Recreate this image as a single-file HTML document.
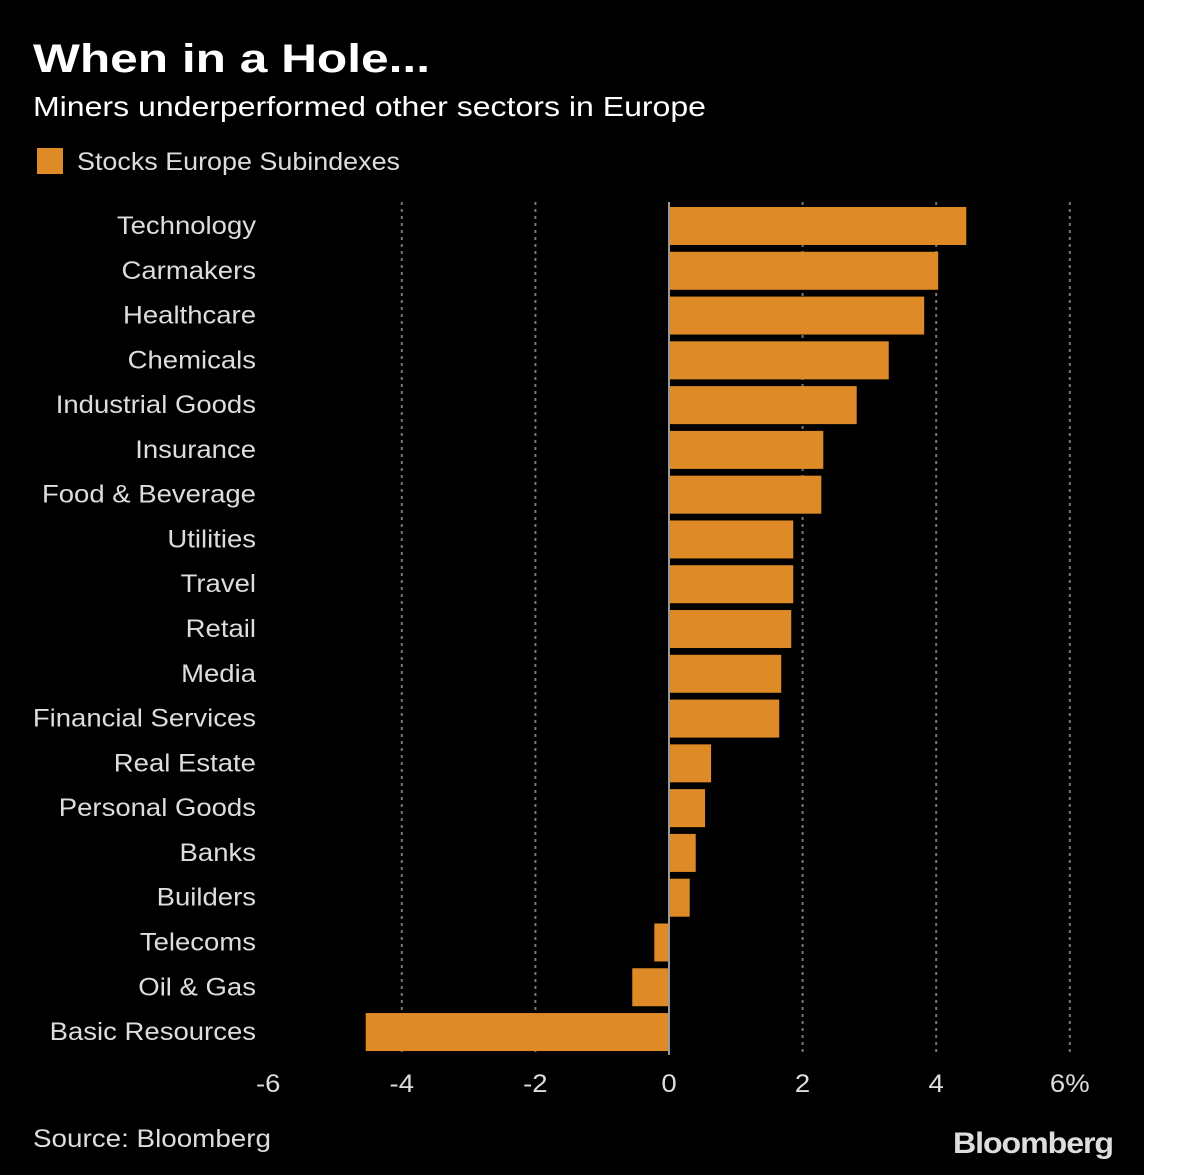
<!DOCTYPE html>
<html><head><meta charset="utf-8"><style>
body{margin:0;width:1200px;height:1175px;background:#fff;overflow:hidden}
#bg{position:absolute;left:0;top:0;width:1144px;height:1175px;background:#000}
svg{position:absolute;left:0;top:0}
text{font-family:"Liberation Sans",sans-serif}
</style></head><body>
<div id="bg"></div>
<svg width="1200" height="1175" id="chart">
<text x="33" y="72" fill="#fff" font-size="40" font-weight="bold" textLength="397" lengthAdjust="spacingAndGlyphs">When in a Hole...</text>
<text x="33" y="116" fill="#fff" font-size="28" textLength="673" lengthAdjust="spacingAndGlyphs">Miners underperformed other sectors in Europe</text>
<rect x="37" y="148" width="26" height="26" fill="#dd8a27"/>
<text x="77" y="170" fill="#ddd" font-size="25" textLength="323" lengthAdjust="spacingAndGlyphs">Stocks Europe Subindexes</text>
<text x="33" y="1147" fill="#ddd" font-size="25" textLength="238" lengthAdjust="spacingAndGlyphs">Source: Bloomberg</text>
<text x="1113" y="1153" fill="#ddd" font-size="30" font-weight="bold" text-anchor="end" letter-spacing="-1" textLength="160" lengthAdjust="spacingAndGlyphs">Bloomberg</text>
<g id="grid"></g><g id="bars"></g><g id="labels"></g><g id="ticks"></g>
</svg>
<script>
const categories=["Technology","Carmakers","Healthcare","Chemicals","Industrial Goods","Insurance","Food & Beverage","Utilities","Travel","Retail","Media","Financial Services","Real Estate","Personal Goods","Banks","Builders","Telecoms","Oil & Gas","Basic Resources"];
const values=[4.45,4.03,3.82,3.29,2.81,2.31,2.28,1.86,1.86,1.83,1.68,1.65,0.63,0.54,0.40,0.31,-0.22,-0.55,-4.54];
const tickValues=[-6,-4,-2,0,2,4,6];
const tickLabels=["-6","-4","-2","0","2","4","6%"];
const NS="http://www.w3.org/2000/svg";
const x=v=>669+v*66.8;
const y=i=>226+i*44.78;
function mk(tag,attrs,parent){const e=document.createElementNS(NS,tag);for(const k in attrs)e.setAttribute(k,attrs[k]);document.getElementById(parent).appendChild(e);return e;}
function widen(t,f){const w=t.getComputedTextLength();t.setAttribute("textLength",w*f);t.setAttribute("lengthAdjust","spacingAndGlyphs");}
tickValues.forEach((t,i)=>{
  if(t!==0&&t!==-6){const g=mk("line",{x1:x(t),x2:x(t),y1:202,y2:1055,stroke:"#777","stroke-width":2,"stroke-dasharray":"3,4"},"grid");
  
  }
  const tl=mk("text",{x:x(t),y:1092,fill:"#ddd","font-size":25,"text-anchor":"middle"},"ticks");
  tl.textContent=tickLabels[i];
  
  
  widen(tl,1.1);
});
categories.forEach((c,i)=>{
  const v=values[i];
  const r=mk("rect",{x:Math.min(x(0),x(v)),y:y(i)-19,width:Math.abs(x(v)-x(0)),height:38,fill:"#dd8a27"},"bars");
  
  
  const l=mk("text",{x:256,y:y(i)+8,fill:"#ddd","font-size":25,"text-anchor":"end"},"labels");
  l.textContent=c;
  
  
  widen(l,1.1);
});
const z=mk("line",{x1:x(0),x2:x(0),y1:202,y2:1055,stroke:"#999","stroke-width":2},"bars");


</script>
</body></html>
